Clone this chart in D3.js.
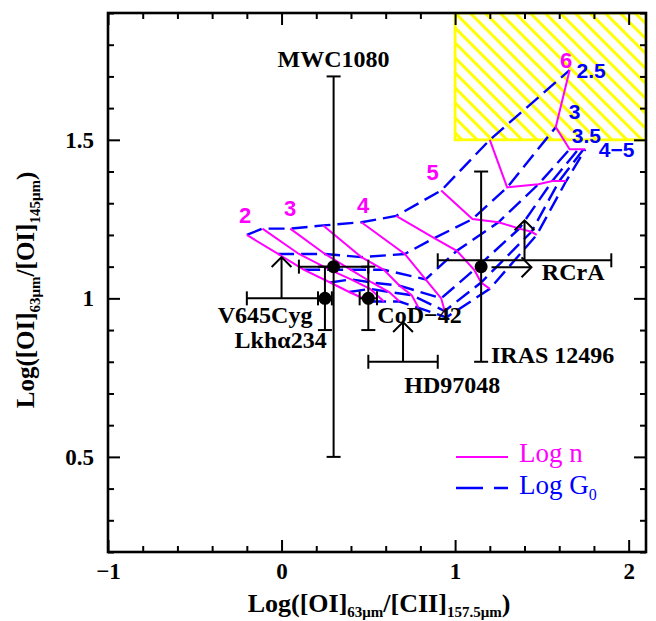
<!DOCTYPE html>
<html>
<head>
<meta charset="utf-8">
<title>[OI]63/[OI]145 vs [OI]63/[CII]157.5</title>
<script src="https://cdn.jsdelivr.net/npm/d3@7/dist/d3.min.js"></script>
<style>
  body { margin: 0; background: #fff; }
  svg text { font-family: "Liberation Serif", "DejaVu Serif", serif; font-weight: bold; }
</style>
</head>
<body>
<div id="chart"></div>
<script>
// PDR model grid: rows = log n, columns = log G0
const logN  = [2, 2.5, 3, 3.5, 4, 4.5, 5, 5.5, 6];
const logG0 = [2.5, 3, 3.5, 4, 4.5, 5];
const gridX = [
  [-0.20, -0.02, 0.13, 0.28, 0.39, 0.51],
  [-0.11,  0.10, 0.28, 0.40, 0.51, 0.59],
  [ 0.05,  0.25, 0.40, 0.52, 0.62, 0.68],
  [ 0.24,  0.46, 0.59, 0.68, 0.75, 0.79],
  [ 0.46,  0.71, 0.83, 0.92, 0.94, 0.95],
  [ 0.66,  0.88, 1.01, 1.11, 1.15, 1.20],
  [ 0.92,  1.10, 1.25, 1.37, 1.44, 1.47],
  [ 1.20,  1.30, 1.48, 1.56, 1.60, 1.64],
  [ 1.66,  1.58, 1.66, 1.71, 1.74, 1.75]
];
const gridY = [
  [1.20, 1.14, 1.09, 1.05, 1.02, 0.99],
  [1.22, 1.14, 1.09, 1.06, 1.03, 0.99],
  [1.22, 1.14, 1.09, 1.05, 1.02, 0.99],
  [1.23, 1.13, 1.09, 1.04, 1.01, 0.97],
  [1.24, 1.14, 1.06, 1.00, 0.96, 0.94],
  [1.26, 1.19, 1.15, 1.09, 1.05, 1.03],
  [1.34, 1.25, 1.24, 1.22, 1.21, 1.20],
  [1.50, 1.35, 1.36, 1.37, 1.37, 1.37],
  [1.72, 1.54, 1.47, 1.47, 1.47, 1.47]
];

// grid labels
const nLabels  = ["2", "3", "4", "5", "6"];
const nLabelX  = [-0.21, 0.05, 0.47, 0.87, 1.64];
const nLabelY  = [1.237, 1.259, 1.268, 1.372, 1.726];
const gLabels  = ["2.5", "3", "3.5", "4\u22125"];
const gLabelX  = [1.70, 1.655, 1.672, 1.828];
const gLabelY  = [1.694, 1.566, 1.489, 1.445];

// observed sources with points and error bars
const srcName = ["MWC1080", "Lkh\u03b1234", "CoD\u221242", "IRAS 12496"];
const srcX    = [0.30, 0.25, 0.50, 1.15];
const srcY    = [1.10, 1.00, 1.00, 1.10];
const srcXlo  = [0.10, 0.21, 0.45, 1.15];
const srcXhi  = [0.50, 0.29, 0.55, 1.15];
const srcYlo  = [0.50, 0.90, 0.90, 0.80];
const srcYhi  = [1.70, 1.10, 1.10, 1.40];

// lower limits: horizontal range with arrow
const limName = ["V645Cyg", "HD97048", "RCrA"];
const limY    = [1.00, 0.80, 1.12];
const limXlo  = [-0.20, 0.50, 0.90];
const limXhi  = [0.25, 0.90, 1.90];
const limArrX = [0.00, 0.70, 1.40];
const limArrTop = [1.13, 0.925, 1.246];
// RCrA also has a lower limit in x
const rcraRightArrow = {x0: 1.21, x1: 1.44, y: 1.098};

// text labels for sources
const labText = ["MWC1080", "V645Cyg", "Lkh\u03b1234", "CoD\u221242", "HD97048", "IRAS 12496", "RCrA"];
const labX    = [0.30, 0.178, 0.26, 0.552, 0.707, 1.207, 1.50];
const labY    = [1.73, 0.921, 0.842, 0.921, 0.70, 0.795, 1.057];
const labAnchor = ["middle", "end", "end", "start", "start", "start", "start"];

// excluded (hatched) region
const hatchX = [1.0, 2.1];
const hatchY = [1.5, 1.9];

const xMajor = [-1, 0, 1, 2];
const xMinor = d3.range(-1, 2.1, 0.2).filter(v => Math.abs(v - Math.round(v)) > 1e-6);
const yMajor = [0.5, 1, 1.5];
const yMinor = d3.range(0.2, 1.91, 0.1).filter(v => Math.abs(v * 2 - Math.round(v * 2)) > 1e-6);

const magenta = "#ff00ff", blue = "#0000ff";
const W = 656, H = 621;
const x = d3.scaleLinear().domain([-1, 2.1]).range([108, 646]);
const y = d3.scaleLinear().domain([0.2, 1.9]).range([552, 13]);

const svg = d3.select("#chart").append("svg")
  .attr("width", W).attr("height", H);

const defs = svg.append("defs");
defs.append("clipPath").attr("id", "frame")
  .append("rect").attr("x", 108).attr("y", 13).attr("width", 538).attr("height", 539);
const pat = defs.append("pattern").attr("id", "hatch")
  .attr("patternUnits", "userSpaceOnUse")
  .attr("width", 10.6).attr("height", 10.6)
  .attr("patternTransform", "rotate(-45)");
pat.append("line").attr("x1", 5.3).attr("y1", 0).attr("x2", 5.3).attr("y2", 10.6)
  .attr("stroke", "#ffff00").attr("stroke-width", 3);

const plot = svg.append("g").attr("clip-path", "url(#frame)");

// hatched box
plot.append("rect")
  .attr("x", x(hatchX[0])).attr("y", y(hatchY[1]))
  .attr("width", x(hatchX[1]) - x(hatchX[0]))
  .attr("height", y(hatchY[0]) - y(hatchY[1]))
  .attr("fill", "url(#hatch)")
  .attr("stroke", "#ffff00").attr("stroke-width", 2.8);

const line = d3.line().x(d => x(d[0])).y(d => y(d[1]));

// constant G0 (blue dashed)
plot.selectAll(".g0").data(logG0).join("path")
  .attr("class", "g0")
  .attr("d", (g, j) => line(logN.map((n, i) => [gridX[i][j], gridY[i][j]])))
  .attr("fill", "none").attr("stroke", blue).attr("stroke-width", 2.4)
  .attr("stroke-dasharray", "16,7");

// constant n (magenta solid)
plot.selectAll(".nn").data(logN).join("path")
  .attr("class", "nn")
  .attr("d", (n, i) => line(logG0.map((g, j) => [gridX[i][j], gridY[i][j]])))
  .attr("fill", "none").attr("stroke", magenta).attr("stroke-width", 2);

plot.selectAll(".nlab").data(nLabels).join("text")
  .attr("x", (d, i) => x(nLabelX[i])).attr("y", (d, i) => y(nLabelY[i]))
  .attr("text-anchor", "middle").attr("fill", magenta)
  .style("font-family", "'Liberation Sans', Arial, sans-serif")
  .style("font-size", "22px").text(d => d);

plot.selectAll(".glab").data(gLabels).join("text")
  .attr("x", (d, i) => x(gLabelX[i])).attr("y", (d, i) => y(gLabelY[i]))
  .attr("fill", blue)
  .style("font-family", "'Liberation Sans', Arial, sans-serif")
  .style("font-size", "21px").text(d => d);

// error bars
const ink = plot.append("g").attr("stroke", "#000").attr("stroke-width", 2).attr("fill", "none");
const cap = 7;
function vbar(xv, y0, y1) {
  ink.append("line").attr("x1", x(xv)).attr("x2", x(xv)).attr("y1", y(y0)).attr("y2", y(y1));
  [y0, y1].forEach(v => ink.append("line")
    .attr("x1", x(xv) - cap).attr("x2", x(xv) + cap).attr("y1", y(v)).attr("y2", y(v)));
}
function hbar(yv, x0, x1) {
  ink.append("line").attr("y1", y(yv)).attr("y2", y(yv)).attr("x1", x(x0)).attr("x2", x(x1));
  [x0, x1].forEach(v => ink.append("line")
    .attr("y1", y(yv) - cap).attr("y2", y(yv) + cap).attr("x1", x(v)).attr("x2", x(v)));
}
function arrow(x0, y0, x1, y1) {
  const X0 = x(x0), Y0 = y(y0), X1 = x(x1), Y1 = y(y1);
  const a = Math.atan2(Y1 - Y0, X1 - X0), L = 14, s = Math.PI / 4;
  ink.append("path").attr("d",
    `M${X0},${Y0}L${X1},${Y1}` +
    `M${X1 - L * Math.cos(a - s)},${Y1 - L * Math.sin(a - s)}L${X1},${Y1}` +
    `L${X1 - L * Math.cos(a + s)},${Y1 - L * Math.sin(a + s)}`);
}

srcName.forEach((s, i) => {
  vbar(srcX[i], srcYlo[i], srcYhi[i]);
  if (srcXhi[i] > srcXlo[i]) hbar(srcY[i], srcXlo[i], srcXhi[i]);
});
limName.forEach((s, i) => {
  hbar(limY[i], limXlo[i], limXhi[i]);
  arrow(limArrX[i], limY[i], limArrX[i], limArrTop[i]);
});
arrow(rcraRightArrow.x0, rcraRightArrow.y, rcraRightArrow.x1, rcraRightArrow.y);

plot.selectAll(".dot").data(srcName).join("circle")
  .attr("cx", (d, i) => x(srcX[i])).attr("cy", (d, i) => y(srcY[i]))
  .attr("r", 6.5).attr("fill", "#000");

plot.selectAll(".slab").data(labText).join("text")
  .attr("x", (d, i) => x(labX[i])).attr("y", (d, i) => y(labY[i]))
  .attr("text-anchor", (d, i) => labAnchor[i])
  .style("font-size", "24px").text(d => d);

// legend
const leg = svg.append("g");
leg.append("line").attr("x1", 456).attr("x2", 508).attr("y1", 457).attr("y2", 457)
  .attr("stroke", magenta).attr("stroke-width", 2);
leg.append("text").attr("x", 519).attr("y", 462).attr("fill", magenta)
  .style("font-size", "27px").style("font-weight", "normal").text("Log n");
leg.append("line").attr("x1", 456).attr("x2", 508).attr("y1", 488).attr("y2", 488)
  .attr("stroke", blue).attr("stroke-width", 2.4).attr("stroke-dasharray", "27,11");
const gt = leg.append("text").attr("x", 519).attr("y", 494).attr("fill", blue)
  .style("font-size", "27px").style("font-weight", "normal");
gt.append("tspan").text("Log G");
gt.append("tspan").attr("dy", 6).style("font-size", "16px").text("0");

// axes with inward ticks on all four sides
function axis(gen, tr) {
  const g = svg.append("g").attr("transform", tr).call(gen)
    .attr("font-family", null).attr("font-size", null);
  g.select(".domain").remove();
  g.selectAll(".tick line").attr("stroke-width", 2);
  g.selectAll(".tick text").style("font-size", "23px");
}
const fmt = d => d < 0 ? "\u2212" + Math.abs(d) : String(d);
axis(d3.axisBottom(x).tickValues(xMajor).tickSizeInner(-12).tickSizeOuter(0).tickPadding(11).tickFormat(fmt), "translate(0,552)");
axis(d3.axisBottom(x).tickValues(xMinor).tickSizeInner(-6).tickSizeOuter(0).tickFormat(""), "translate(0,552)");
axis(d3.axisTop(x).tickValues(xMajor).tickSizeInner(-12).tickSizeOuter(0).tickFormat(""), "translate(0,13)");
axis(d3.axisTop(x).tickValues(xMinor).tickSizeInner(-6).tickSizeOuter(0).tickFormat(""), "translate(0,13)");
axis(d3.axisLeft(y).tickValues(yMajor).tickSizeInner(-12).tickSizeOuter(0).tickPadding(14).tickFormat(fmt), "translate(108,0)");
axis(d3.axisLeft(y).tickValues(yMinor).tickSizeInner(-6).tickSizeOuter(0).tickFormat(""), "translate(108,0)");
axis(d3.axisRight(y).tickValues(yMajor).tickSizeInner(-12).tickSizeOuter(0).tickFormat(""), "translate(646,0)");
axis(d3.axisRight(y).tickValues(yMinor).tickSizeInner(-6).tickSizeOuter(0).tickFormat(""), "translate(646,0)");

svg.append("rect").attr("x", 108).attr("y", 13).attr("width", 538).attr("height", 539)
  .attr("fill", "none").attr("stroke", "#000").attr("stroke-width", 2.6);

// axis titles
const xt = svg.append("text").attr("x", 379).attr("y", 612).attr("text-anchor", "middle")
  .style("font-size", "26px");
xt.append("tspan").text("Log([OI]");
xt.append("tspan").attr("dy", 5).style("font-size", "15px").text("63\u03bcm");
xt.append("tspan").attr("dy", -5).text("/[CII]");
xt.append("tspan").attr("dy", 5).style("font-size", "15px").text("157.5\u03bcm");
xt.append("tspan").attr("dy", -5).text(")");

const yt = svg.append("text").attr("transform", "translate(34,290) rotate(-90)")
  .attr("text-anchor", "middle").style("font-size", "25px");
yt.append("tspan").text("Log([OI]");
yt.append("tspan").attr("dy", 6).style("font-size", "15px").text("63\u03bcm");
yt.append("tspan").attr("dy", -6).text("/[OI]");
yt.append("tspan").attr("dy", 6).style("font-size", "15px").text("145\u03bcm");
yt.append("tspan").attr("dy", -6).text(")");
</script>
</body>
</html>
